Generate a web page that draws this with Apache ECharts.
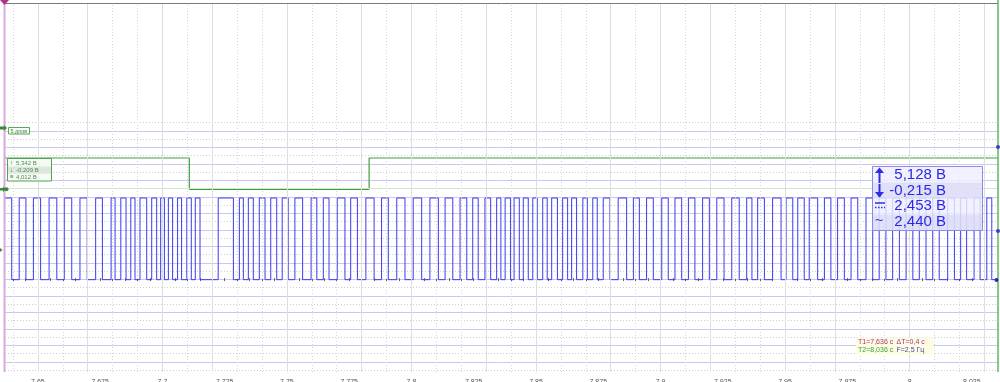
<!DOCTYPE html>
<html><head><meta charset="utf-8">
<script src="https://cdn.jsdelivr.net/npm/echarts@6/dist/echarts.min.js"></script>
<style>html,body{margin:0;padding:0;background:#fff}#c{width:1000px;height:382px}</style>
</head><body><div id="c"></div>
<script>
// ---- axis range & ticks (seconds)
const xMin = 7.6368, xMax = 8.0355;
const majorTicks = [7.65,7.675,7.7,7.725,7.75,7.775,7.8,7.825,7.85,7.875,7.9,7.925,7.95,7.975,8,8.025];
const tickLabels = ['7.65','7.675','7.7','7.725','7.75','7.775','7.8','7.825','7.85','7.875','7.9','7.925','7.95','7.975','8','8.025'];
const minorStep = 0.005;

// ---- blue channel: logic levels (V) and switching instants (s), starts high
const blueHigh = 5.1, blueLow = -0.1;
const blueEdges = [
7.6395,7.6425,7.6452,7.6482,7.6511,7.6545,7.6576,7.6606,7.6636,7.6669,7.6698,7.6732,7.6759,7.6794,7.6810,7.6833,
7.6854,7.6873,7.6890,7.6910,7.6937,7.6957,7.6977,7.6993,7.7008,7.7024,7.7041,7.7061,7.7077,7.7098,7.7116,7.7132,
7.7151,7.7224,7.7285,7.7309,7.7325,7.7345,7.7365,7.7389,7.7412,7.7435,7.7459,7.7481,7.7505,7.7532,7.7563,7.7597,
7.7620,7.7646,7.7669,7.7702,7.7733,7.7756,7.7783,7.7817,7.7850,7.7880,7.7907,7.7941,7.7974,7.8007,7.8041,7.8074,
7.8108,7.8135,7.8166,7.8195,7.8222,7.8246,7.8268,7.8295,7.8318,7.8342,7.8359,7.8376,7.8398,7.8412,7.8433,7.8449,
7.8469,7.8487,7.8505,7.8527,7.8545,7.8563,7.8586,7.8607,7.8627,7.8643,7.8663,7.8688,7.8706,7.8728,7.8746,7.8770,
7.8797,7.8830,7.8864,7.8891,7.8915,7.8944,7.8971,7.9005,7.9031,7.9058,7.9085,7.9112,7.9138,7.9169,7.9196,7.9226,
7.9255,7.9286,7.9316,7.9346,7.9367,7.9390,7.9417,7.9450,7.9484,7.9504,7.9531,7.9551,7.9577,7.9597,7.9631,7.9658,
7.9684,7.9711,7.9738,7.9765,7.9792,7.9825,7.9852,7.9878,7.9905,7.9932,7.9959,7.9986,8.0013,8.0039,8.0066,8.0093,
8.0119,8.0153,8.0180,8.0205,8.0229,8.0259,8.0283,8.0310,8.0330
];

// ---- green channel: levels (V) and switching instants (s), starts high
const greenHigh = 5.1, greenLow = -0.1;
const greenEdges = [7.7108, 7.7830];

// ---- cursors and readouts
const cursorT1 = 7.6368, cursorT2 = 8.0355;
const blueStats = ['5,128 В','-0,215 В','2,453 В','2,440 В'];
const greenStats = ['5,342 В','-0,209 В','4,012 В'];
const greenLabel = '5 дпов';
const cursorTexts = ['T1=7,636 с','ΔT=0,4 с','T2=8,036 с','F=2,5 Гц'];

function stepData(edges, hi, lo){
  let lvl = hi; const d = [[xMin, lvl]];
  for (const t of edges){ d.push([t, lvl]); lvl = (lvl === hi) ? lo : hi; d.push([t, lvl]); }
  d.push([xMax, lvl]); return d;
}
const allTicks = [];
for (let k = 0; ; k++){ const v = Math.round((7.64 + k*minorStep)*1000)/1000; if (v > xMax) break; allTicks.push(v); }
const isMajor = v => majorTicks.some(m => Math.abs(m - v) < 1e-7);
const minorTicks = allTicks.filter(v => !isMajor(v));

const FONT = '"Liberation Sans", Arial, sans-serif';
const chart = echarts.init(document.getElementById('c'), null, {renderer:'canvas'});

const gridLines = [];
minorTicks.forEach(v => gridLines.push({xAxis: v, lineStyle:{color:'#d6d6d6', type:[1,2], width:1}}));
majorTicks.forEach(v => gridLines.push({xAxis: v, lineStyle:{color:'#dedede', type:'solid', width:1}}));

function txt(x, y, text, size, color, align){
  return {type:'text', silent:true, z:100, style:{x, y, text, fill:color, font: size+'px '+FONT,
    fontSize:size, fontFamily:FONT, align: align||'left', textAlign: align||'left', verticalAlign:'middle', textVerticalAlign:'middle'}};
}
function rect(x,y,w,h,fill,stroke,lw){
  return {type:'rect', silent:true, z:90, shape:{x,y,width:w,height:h}, style:{fill, stroke: stroke||null, lineWidth: lw||1}};
}
function line(x1,y1,x2,y2,color,w,dash){
  return {type:'line', silent:true, z:95, shape:{x1,y1,x2,y2}, style:{stroke:color, lineWidth:w||1, lineDash: dash||null}};
}

const graphics = [
  line(5, 3.5, 998, 3.5, '#7a7a7a', 1),
  // left channel markers
  {type:'polygon', silent:true, z:100, shape:{points:[[0,126.5],[4,126.5],[4,125],[7,128],[4,131],[4,129.5],[0,129.5]]}, style:{fill:'#3a8a3a'}},
  {type:'polygon', silent:true, z:100, shape:{points:[[0,188],[3,188],[3,186.5],[6,189.3],[3,192],[3,190.5],[0,190.5]]}, style:{fill:'#3a8a3a'}},
  {type:'circle', silent:true, z:100, shape:{cx:6.5, cy:189.3, r:2}, style:{fill:'#3a8a3a'}},
  {type:'polygon', silent:true, z:100, shape:{points:[[0,248],[2.5,250],[0,252]]}, style:{fill:'#3a8a3a'}},
  // right markers
  {type:'circle', silent:true, z:100, shape:{cx:998, cy:147, r:2}, style:{fill:'#3b3bd0'}},
  {type:'circle', silent:true, z:100, shape:{cx:998, cy:231, r:2}, style:{fill:'#3b3bd0'}},
  {type:'circle', silent:true, z:100, shape:{cx:996.5, cy:280, r:2}, style:{fill:'#2b2bb0'}},
  // green channel label
  rect(8.5, 127.5, 21, 6.5, '#f6fcf6', '#5aa55a', 1),
  txt(10.5, 131, greenLabel, 5.5, '#4a8a4a'),
  // green stats box
  rect(7.5, 158.5, 44, 22.5, 'rgba(246,251,246,0.95)', '#52a452', 1),
  rect(8, 166.6, 43, 7.2, 'rgba(215,228,215,0.8)'),
  txt(10, 163.2, '↑', 6.5, '#3c8c3c'),
  txt(10, 170.2, '↓', 6.5, '#3c8c3c'),
  txt(10, 177.2, '≡', 6.5, '#3c8c3c'),
  txt(16, 163.2, greenStats[0], 6, '#4f8a4f'),
  txt(16, 170.2, greenStats[1], 6, '#4f8a4f'),
  txt(16, 177.2, greenStats[2], 6, '#4f8a4f'),
  // blue stats box
  rect(872.5, 166.5, 110, 64, 'rgba(238,238,255,0.82)', '#8a8aee', 1),
  rect(873, 182.5, 109, 16, 'rgba(205,205,240,0.45)'),
  rect(873, 214.5, 109, 15.5, 'rgba(205,205,240,0.45)'),
  line(879.5, 169, 879.5, 183, '#2e2ee0', 2),
  {type:'polygon', silent:true, z:100, shape:{points:[[875,173],[879.5,167.5],[884,173]]}, style:{fill:'#2e2ee0'}},
  line(879.5, 184, 879.5, 197, '#2e2ee0', 2),
  {type:'polygon', silent:true, z:100, shape:{points:[[875,192],[879.5,197.5],[884,192]]}, style:{fill:'#2e2ee0'}},
  line(875, 203, 885, 203, '#2e2ee0', 1.5),
  line(875, 207.5, 885, 207.5, '#2e2ee0', 1.5, [1.5,1.5]),
  txt(875, 221.5, '~', 14, '#2e2ee0'),
  txt(946, 174.5, blueStats[0], 15, '#2a2ae6', 'right'),
  txt(946, 190.5, blueStats[1], 15, '#2a2ae6', 'right'),
  txt(946, 206, blueStats[2], 15, '#2a2ae6', 'right'),
  txt(946, 222, blueStats[3], 15, '#2a2ae6', 'right'),
  // cursor readout
  rect(856, 337.5, 77, 17, '#fdfde2'),
  txt(858, 342.2, cursorTexts[0], 7, '#b0307e'),
  txt(896.5, 342.2, cursorTexts[1], 7, '#a2309a'),
  txt(858, 350.2, cursorTexts[2], 7, '#3c9c3c'),
  txt(896.5, 350.2, cursorTexts[3], 7, '#4848a8')
];

const option = {
  animation: false,
  backgroundColor: '#ffffff',
  grid: [
    {left:5, right:2, top:4, bottom:10, outerBoundsMode:'none'},
    {left:5, right:2, top:122.7, bottom:12, outerBoundsMode:'none'},
    {left:5, right:2, top:130.9, bottom:20.2, outerBoundsMode:'none'}
  ],
  xAxis: [
    {type:'value', gridIndex:0, min:xMin, max:xMax,
     axisLine:{show:false},
     axisTick:{show:true, customValues: allTicks, length:3, lineStyle:{color:'#666', width:1}},
     axisLabel:{show:true, customValues: majorTicks, fontSize:7, color:'#555', margin:7, fontFamily:FONT,
       formatter: v => { const i = majorTicks.findIndex(m => Math.abs(m - v) < 1e-7); return i >= 0 ? tickLabels[i] : ''; }},
     splitLine:{show:false}},
    {type:'value', gridIndex:1, min:0, max:1, show:false},
    {type:'value', gridIndex:2, min:0, max:1, show:false}
  ],
  yAxis: [
    {type:'value', gridIndex:0, min:-5.977, max:17.45, show:false},
    {type:'value', gridIndex:0, min:-30.45, max:30.68, show:false},
    {type:'value', gridIndex:1, min:0, max:30, interval:1, axisLine:{show:false}, axisTick:{show:false}, axisLabel:{show:false},
     splitLine:{show:true, lineStyle:{color:'#cdcde0', type:[1,2], width:1}}},
    {type:'value', gridIndex:2, min:0, max:28, interval:2, axisLine:{show:false}, axisTick:{show:false}, axisLabel:{show:false},
     splitLine:{show:true, lineStyle:{color:'#c8c8f2', type:'solid', width:1}}}
  ],
  series: [
    {type:'line', name:'grid', xAxisIndex:0, yAxisIndex:0, data:[[xMin, 0]], symbol:'none', z:1,
     lineStyle:{opacity:0}, silent:true,
     markLine:{silent:true, symbol:['none','none'], label:{show:false}, animation:false, data: gridLines}},
    {type:'line', name:'green', xAxisIndex:0, yAxisIndex:1, data: stepData(greenEdges, greenHigh, greenLow),
     symbol:'none', z:3, lineStyle:{color:'#3f9f3f', width:1.2}, silent:true,
     markLine:{silent:true, symbol:['none','none'], label:{show:false}, animation:false,
       data:[{yAxis:0, lineStyle:{color:'#cfe6cf', type:'solid', width:1}}]}},
    {type:'line', name:'blue', xAxisIndex:0, yAxisIndex:0, data: stepData(blueEdges, blueHigh, blueLow),
     symbol:'none', z:4, lineStyle:{color:'#3b3bf0', width:1}, silent:true}
  ]
};
chart.setOption(option);
// cursors placed through the x scale
const xT1 = chart.convertToPixel({xAxisIndex:0}, cursorT1);
const xT2 = chart.convertToPixel({xAxisIndex:0}, cursorT2);
graphics.push(line(xT1 - 0.5, 0, xT1 - 0.5, 372, '#d9aadd', 2));
graphics.push({type:'polygon', silent:true, z:100, shape:{points:[[xT1-5,0],[xT1+4,0],[xT1-0.5,5]]}, style:{fill:'#b0308a'}});
graphics.push(line(xT2, 0, xT2, 372, '#5cb85c', 1.5));
chart.setOption({graphic:{elements: graphics}});
</script></body></html>
